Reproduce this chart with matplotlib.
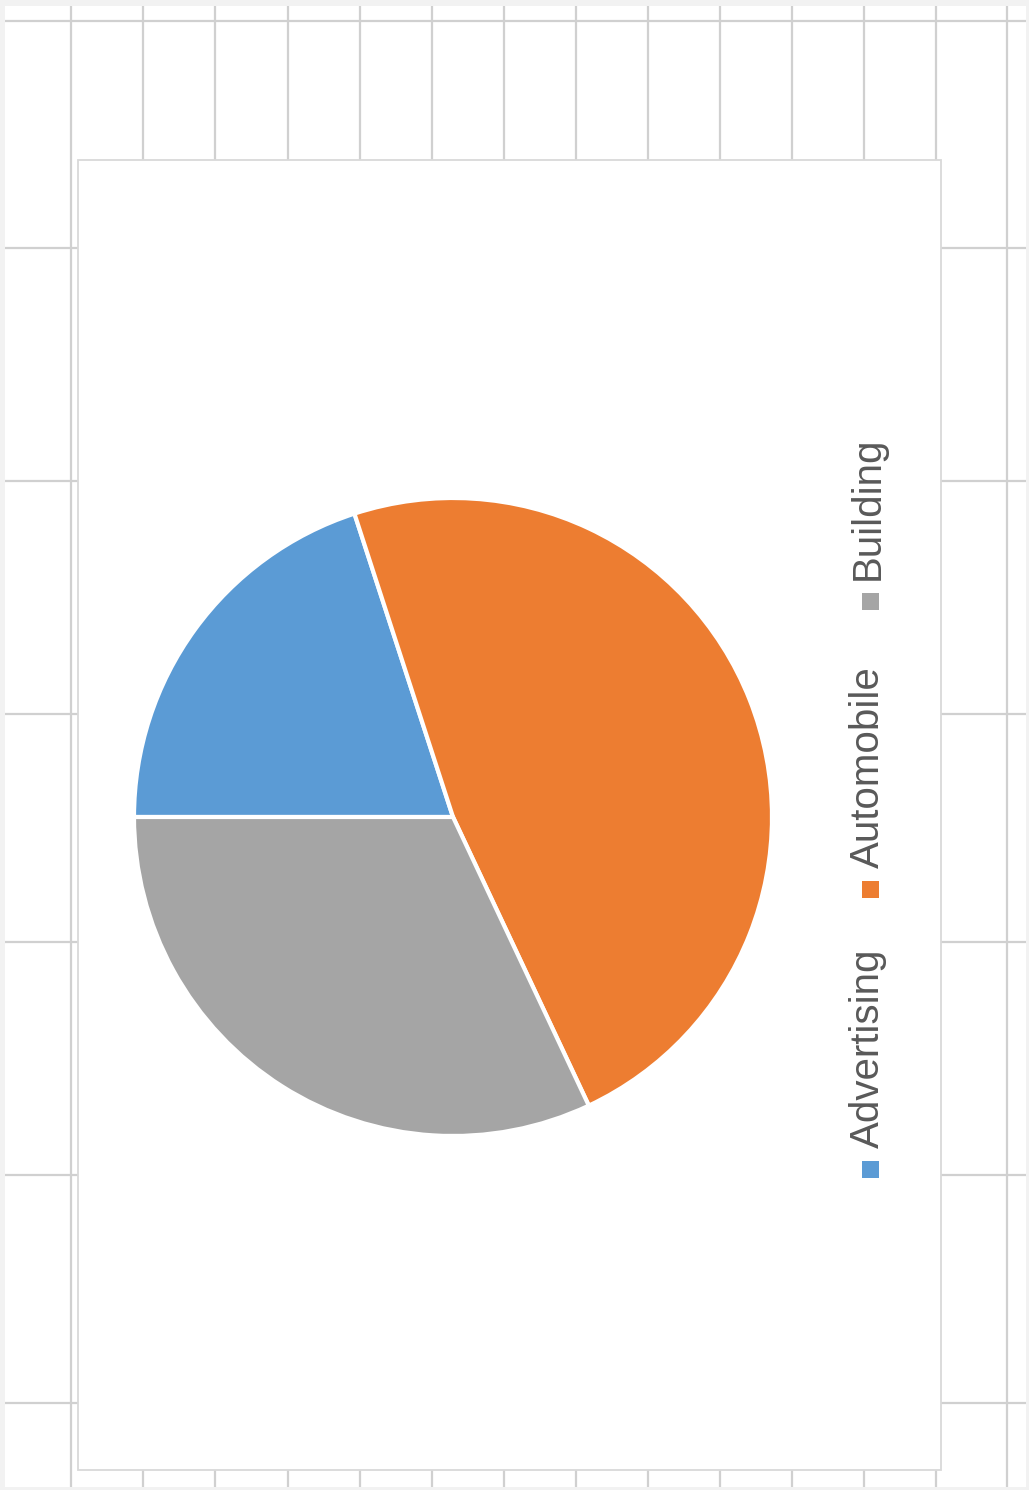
import matplotlib
matplotlib.use("Agg")
import matplotlib.pyplot as plt
from matplotlib.patches import Rectangle

# ── Data ──────────────────────────────────────────────────────────────────────
categories = ["Advertising", "Automobile", "Building"]
shares     = [20, 48, 32]
colors     = ["#5B9BD5", "#ED7D31", "#A5A5A5"]

# ── Layout (pixels, origin top-left) ─────────────────────────────────────────
W, H = 1029, 1490
grid_x = [71, 143, 215, 288, 360, 432, 504, 576, 648, 720, 792, 864, 936, 1007]
grid_y = [21, 248, 481, 714, 942, 1175, 1403]
chart_box = (78, 160, 941, 1470)           # left, top, right, bottom
pie_cx, pie_cy, pie_r = 453, 817, 319
legend_x = 871
legend_marker_y = [1170, 890, 602]

fig = plt.figure(figsize=(W / 100, H / 100), dpi=100)

# background: spreadsheet cells
bg = fig.add_axes([0, 0, 1, 1])
bg.set_xlim(0, W); bg.set_ylim(H, 0)
bg.axis("off")
bg.add_patch(Rectangle((0, 0), W, H, facecolor="#f2f2f2", edgecolor="none"))
bg.add_patch(Rectangle((5, 6), W - 8, H - 9, facecolor="white", edgecolor="none"))
bg.vlines(grid_x, 6, H - 3, color="#d0d0d0", linewidth=1.6)
bg.hlines(grid_y, 5, W - 3, color="#d0d0d0", linewidth=1.6)

# chart area
l, t, r, b = chart_box
bg.add_patch(Rectangle((l, t), r - l, b - t, facecolor="white",
                       edgecolor="#d9d9d9", linewidth=1.3, zorder=3))

# legend (rotated 90°)
for name, col, my in zip(categories, colors, legend_marker_y):
    bg.add_patch(Rectangle((legend_x - 9, my - 9), 17, 17, facecolor=col,
                           edgecolor="none", zorder=4))
    bg.text(legend_x - 3, my - 22, name, rotation=90, ha="center", va="bottom",
            fontsize=29, color="#595959", family="Liberation Sans", zorder=4)

# pie
ax = fig.add_axes([(pie_cx - pie_r) / W, (H - pie_cy - pie_r) / H,
                   2 * pie_r / W, 2 * pie_r / H])
ax.pie(shares, colors=colors, startangle=180, counterclock=False,
       wedgeprops=dict(edgecolor="white", linewidth=3))
ax.set_xlim(-1, 1); ax.set_ylim(-1, 1)
ax.set_aspect("auto")
ax.axis("off")

fig.savefig("out.png", dpi=100)
